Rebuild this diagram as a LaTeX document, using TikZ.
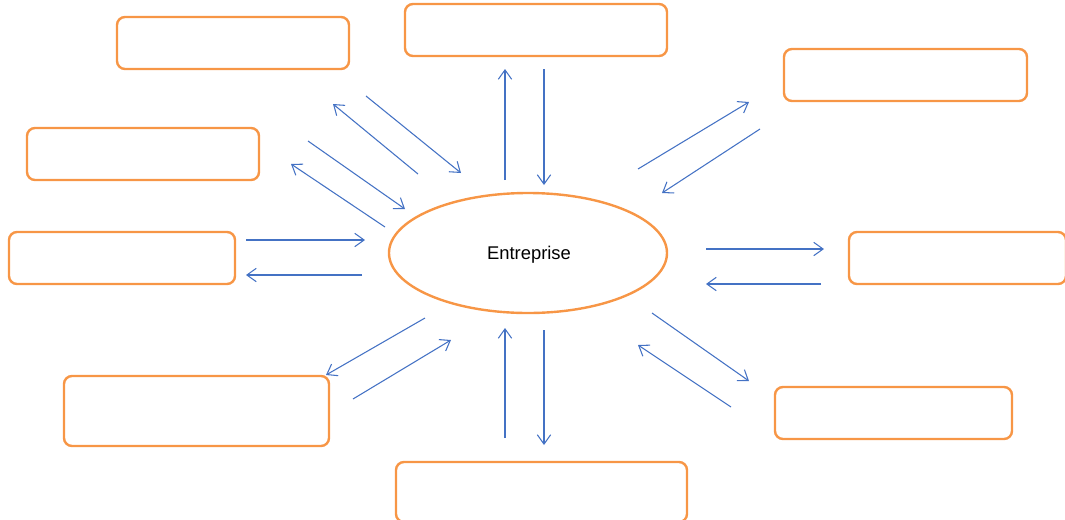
\documentclass[tikz,border=0pt]{standalone}
\usepackage{fontspec}
\setmainfont{Liberation Sans}
\usetikzlibrary{shapes.geometric}
\usetikzlibrary{arrows.meta}

\definecolor{boxorange}{RGB}{247,150,70}
\definecolor{flowblue}{RGB}{68,114,196}

\tikzset{
    box/.style 2 args={draw=boxorange, line width=1.8pt, rounded corners=6pt,
        minimum width=#1*0.75pt, minimum height=#2*0.75pt, inner sep=0pt},
    flow/.style={draw=flowblue, line width=0.8pt,
        -{Straight Barb[length=7pt,width=10pt,line width=0.8pt]}}
}

\begin{document}
\begin{tikzpicture}[x=0.75pt, y=-0.75pt]
        \useasboundingbox (0,0) rectangle (1065,519);

        % Central entity
        \node[ellipse, draw=boxorange, line width=1.8pt, minimum width=278*0.75pt,
              minimum height=120*0.75pt, inner sep=0pt,
              font=\fontsize{13.8}{16}\selectfont] (ent) at (528,253) {};
        \node[font=\fontsize{13.8}{16}\selectfont] (entlabel) at (529,255) {Entreprise};

        % Surrounding partners (empty boxes)
        \node[box={232}{52}] (tl) at (233,43) {};
        \node[box={262}{52}] (top) at (536,30) {};
        \node[box={243}{52}] (tr) at (905.5,75) {};
        \node[box={232}{52}] (la) at (143,154) {};
        \node[box={226}{52}] (lb) at (122,258) {};
        \node[box={217}{52}] (rt) at (957.5,258) {};
        \node[box={265}{70}] (bl) at (196.5,411) {};
        \node[box={237}{52}] (br) at (893.5,413) {};
        \node[box={291}{60}] (bt) at (541.5,492) {};

        % Exchange arrows
        \foreach \i/\ax/\ay/\bx/\by in {
            1/366/96/461/173, 2/418/174/333/104,
            3/308/141/405/209, 4/385/227/291/164,
            5/246/240/365/240, 6/362/275/246/275,
            7/425/318/326/375, 8/353/399/451/340,
            9/505/438/505/328, 10/544/330/544/445,
            11/505/180/505/69, 12/544/69/544/185,
            13/638/169/749/102, 14/760/129/662/193,
            15/706/249/824/249, 16/821/284/706/284,
            17/652/313/749/381, 18/731/407/638/345} {
            \coordinate (s\i) at (\ax,\ay);
            \coordinate (e\i) at (\bx,\by);
            \draw[flow] (s\i) -- (e\i);
        }

    \end{tikzpicture}
\end{document}
